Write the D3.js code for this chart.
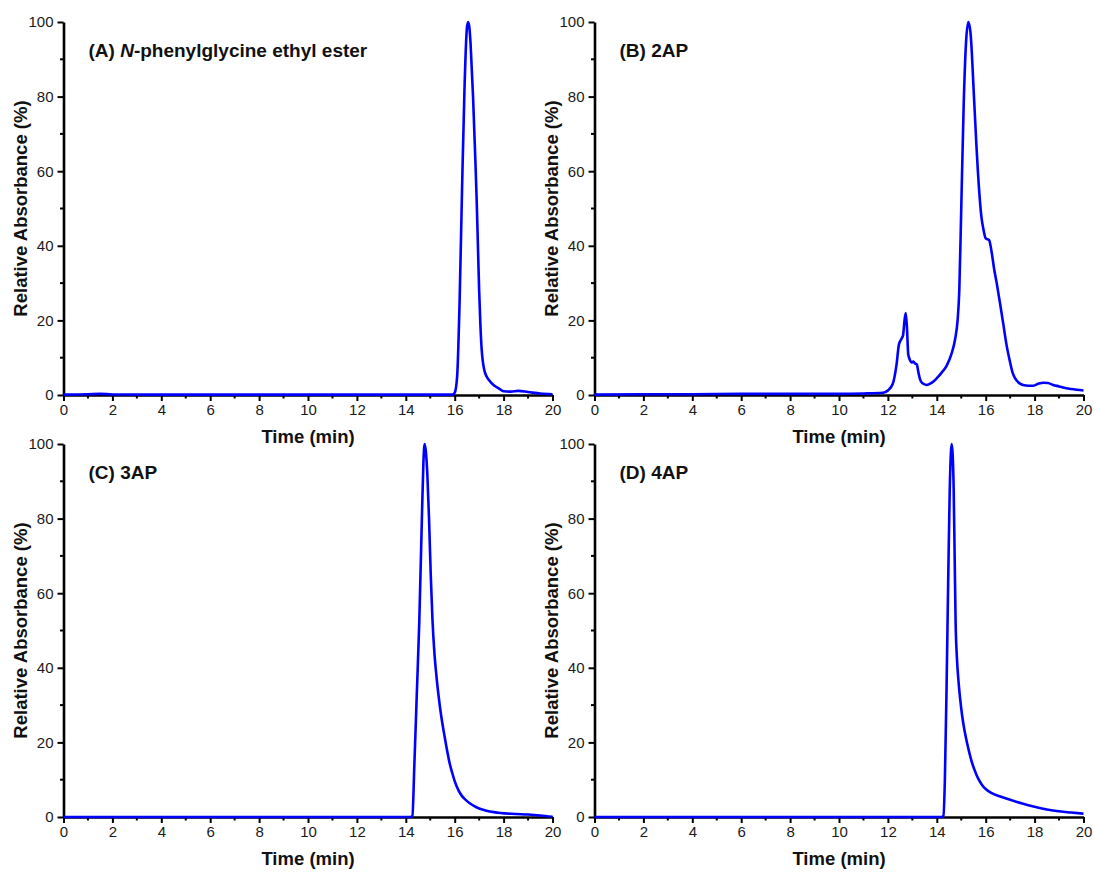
<!DOCTYPE html>
<html><head><meta charset="utf-8">
<script src="https://cdn.jsdelivr.net/npm/d3@7"></script>
<style>body{margin:0;background:#fff}svg{display:block}text{font-family:Arial,"Liberation Sans",sans-serif}</style>
</head><body><svg id="c" width="1094" height="874"></svg>
<script>
// Time (min) and relative absorbance (%) for each chromatogram
const timeA = [0,1,1.5,2,4,8,12,15.9,16.0,16.1,16.2,16.3,16.4,16.5,16.55,16.6,16.65,16.7,16.75,16.8,16.85,16.9,16.95,17.0,17.05,17.1,17.15,17.2,17.3,17.4,17.6,17.8,18.0,18.3,18.6,19.0,19.5,20];
const absA  = [0.1,0.2,0.3,0.15,0.1,0.1,0.1,0.1,0.6,5,25,55,82,98.5,100,98.5,94,87,80,71,62,52,40,28,19,12.5,9,7,5,4,2.6,1.8,1.0,0.9,1.1,0.8,0.4,0.2];

const timeB = [0,2,4,6,8,10,11,11.8,12.0,12.2,12.35,12.45,12.55,12.62,12.68,12.73,12.78,12.83,12.9,12.97,13.04,13.1,13.18,13.25,13.31,13.4,13.59,13.8,14.0,14.2,14.4,14.6,14.75,14.85,14.92,15.0,15.1,15.2,15.29,15.38,15.52,15.62,15.73,15.82,15.92,16.0,16.14,16.25,16.34,16.45,16.6,16.72,16.85,16.99,17.1,17.2,17.35,17.53,17.75,17.95,18.15,18.36,18.55,18.76,19.0,19.17,19.5,20];
const absB  = [0.1,0.2,0.2,0.3,0.3,0.3,0.4,0.6,1.2,3,8,13.5,15,16,20,22,18,11,9.4,8.7,9,8.5,8.2,6,4.3,3.2,2.7,3.3,4.5,6,7.8,11,15,20,28,50,78,95,100,97,80,67,55,48,44,42,41.5,38,34,30,24,19,13.5,9,6,4.5,3.3,2.7,2.5,2.5,3,3.3,3.2,2.7,2.3,2.0,1.6,1.2];

const timeC = [0,4,8,12,14.2,14.27,14.35,14.45,14.55,14.65,14.72,14.77,14.82,14.88,14.95,15.02,15.09,15.17,15.25,15.34,15.45,15.55,15.67,15.79,15.9,16.0,16.15,16.3,16.45,16.63,16.8,17.0,17.3,17.6,17.86,18.5,19.0,19.5,20];
const absC  = [0,0,0,0,0,0.3,14,33,52,78,95,100,98,92,80,65,53,44,38,32.5,27,23,18.5,14.5,11.8,9.6,7.2,5.6,4.6,3.6,2.9,2.3,1.7,1.3,1.05,0.8,0.65,0.4,0.05];

const timeD = [0,4,8,12,14.2,14.27,14.33,14.4,14.47,14.53,14.58,14.61,14.65,14.69,14.73,14.77,14.82,14.88,14.95,15.04,15.13,15.25,15.43,15.55,15.7,15.85,16.0,16.25,16.6,17.0,17.5,17.95,18.5,18.9,19.5,20];
const absD  = [0,0,0,0,0,0.3,10,35,65,88,98,100,97,88,70,52,43,37,32,27,23.3,19.5,14.8,12.5,10.2,8.6,7.5,6.4,5.5,4.6,3.6,2.8,2.0,1.6,1.2,0.9];

const xTicks = [0,2,4,6,8,10,12,14,16,18,20];
const yTicks = [0,20,40,60,80,100];
const xTitle = "Time (min)";
const yTitle = "Relative Absorbance (%)";

const panels = [
  {pre:"(A) ", ital:"N", post:"-phenylglycine ethyl ester", t:timeA, v:absA, left:63.5, top:22},
  {pre:"(B) 2AP", ital:"", post:"", t:timeB, v:absB, left:594.5, top:22},
  {pre:"(C) 3AP", ital:"", post:"", t:timeC, v:absC, left:63.5, top:444},
  {pre:"(D) 4AP", ital:"", post:"", t:timeD, v:absD, left:594.5, top:444}
];
const W = 489, H = 373;
const svg = d3.select("#c");

panels.forEach(p => {
  const g = svg.append("g").attr("transform", `translate(${p.left},${p.top})`);
  const x = d3.scaleLinear().domain([0,20]).range([0,W]);
  const y = d3.scaleLinear().domain([0,100]).range([H,0]);

  // minor ticks
  const minorX = d3.range(1,20,2);
  const minorY = d3.range(10,100,20);
  g.selectAll(".mx").data(minorX).enter().append("line")
    .attr("x1",d=>x(d)).attr("x2",d=>x(d)).attr("y1",H).attr("y2",H+3.5)
    .attr("stroke","#000").attr("stroke-width",2);
  g.selectAll(".my").data(minorY).enter().append("line")
    .attr("y1",d=>y(d)).attr("y2",d=>y(d)).attr("x1",0).attr("x2",-3.5)
    .attr("stroke","#000").attr("stroke-width",2);

  const xa = g.append("g").attr("transform",`translate(0,${H})`)
    .call(d3.axisBottom(x).tickValues(xTicks).tickSize(6).tickSizeOuter(0).tickFormat(d3.format("d")));
  const ya = g.append("g")
    .call(d3.axisLeft(y).tickValues(yTicks).tickSize(6).tickSizeOuter(0).tickFormat(d3.format("d")));
  [xa,ya].forEach(a=>{
    a.select(".domain").attr("stroke","#000").attr("stroke-width",2.6);
    a.selectAll(".tick line").attr("stroke","#000").attr("stroke-width",2);
    a.selectAll(".tick text").attr("fill","#1a1a1a").style("font-size","15px").style("font-family","Arial, 'Liberation Sans', sans-serif");
  });
  xa.selectAll(".tick text").attr("dy","0").attr("y",20);
  ya.selectAll(".tick text").attr("x",-10);

  // axis titles
  g.append("text").attr("x",W/2).attr("y",H+48).attr("text-anchor","middle")
    .style("font-size","18.5px").style("font-weight","bold").attr("fill","#111").text(xTitle);
  g.append("text").attr("transform",`translate(${-43},${H/2}) rotate(-90)`).attr("text-anchor","middle")
    .attr("dy","0.35em").style("font-size","18.5px").style("font-weight","bold").attr("fill","#111").text(yTitle);

  // panel label
  const lab = g.append("text").attr("x",25).attr("y",35)
    .style("font-size","19px").style("font-weight","bold").attr("fill","#111");
  lab.append("tspan").text(p.pre);
  if (p.ital) lab.append("tspan").style("font-style","italic").text(p.ital);
  if (p.post) lab.append("tspan").text(p.post);

  // data line
  const pts = p.t.map((t,i)=>[t,p.v[i]]);
  g.append("path").datum(pts)
    .attr("d", d3.line().x(d=>x(d[0])).y(d=>y(d[1])).curve(d3.curveMonotoneX))
    .attr("fill","none").attr("stroke","#0000ff").attr("stroke-width",2.6)
    .attr("stroke-linejoin","round");
});
</script></body></html>
